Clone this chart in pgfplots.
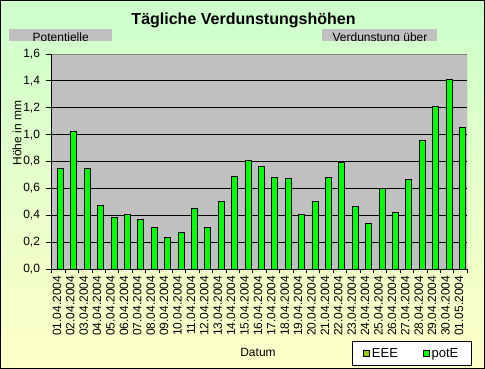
\documentclass[border=0pt]{standalone}
\usepackage{fontspec}
\setmainfont{Liberation Sans}
\usepackage{pgfplots}
\pgfplotsset{compat=1.18}
\definecolor{bggreen}{HTML}{CCFFCC}
\definecolor{bgyellow}{HTML}{FFFFC8}
\definecolor{plotgray}{HTML}{C0C0C0}
\definecolor{barg}{HTML}{00FF00}
\definecolor{eee}{HTML}{99CC00}
\definecolor{framegray}{HTML}{808080}
\begin{document}
\begin{tikzpicture}
\shade[top color=bggreen, bottom color=bgyellow] (0,0) rectangle (485bp,369bp);
\begin{axis}[
  at={(51.7bp,100bp)}, anchor=south west,
  scale only axis, width=415.4bp, height=215bp,
  xmin=-0.5, xmax=30.5, ymin=0, ymax=1.6,
  axis background/.style={fill=plotgray},
  axis x line*=bottom, axis y line*=left,
  axis line style={black, line width=0.8bp},
  ytick={0,0.2,0.4,0.6,0.8,1.0,1.2,1.4,1.6},
  ymajorgrids, major grid style={black, line width=0.8bp},
  xtick={0,...,30},
  xticklabels={01.04.2004,02.04.2004,03.04.2004,04.04.2004,05.04.2004,06.04.2004,07.04.2004,08.04.2004,09.04.2004,10.04.2004,11.04.2004,12.04.2004,13.04.2004,14.04.2004,15.04.2004,16.04.2004,17.04.2004,18.04.2004,19.04.2004,20.04.2004,21.04.2004,22.04.2004,23.04.2004,24.04.2004,25.04.2004,26.04.2004,27.04.2004,28.04.2004,29.04.2004,30.04.2004,01.05.2004},
  minor xtick={-0.5,0.5,...,30.5},
  major x tick style={draw=none},
  tick align=outside,
  major tick length=6bp, minor tick length=4bp,
  tick style={black, line width=0.8bp},
  tick label style={font=\fontsize{12bp}{14bp}\selectfont},
  xticklabel style={rotate=90, anchor=east, inner sep=0pt, xshift=-0.5bp, yshift=1.5bp},
  yticklabel style={inner sep=0pt, xshift=-5.5bp,
    /pgf/number format/fixed, /pgf/number format/fixed zerofill,
    /pgf/number format/precision=1, /pgf/number format/use comma,
    /pgf/number format/assume math mode=true},
  legend style={at={(0.7229,-0.3349)}, anchor=north west, draw=black, fill=white,
    line width=0.8bp, inner xsep=11bp, inner ysep=5bp,
    font=\fontsize{13bp}{15bp}\selectfont,
    /tikz/every even column/.append style={column sep=23bp}},
  legend columns=2,
  legend image code/.code={\draw[#1, line width=0.6bp] (0bp,-3bp) rectangle (6bp,3bp);},
]
\addlegendimage{fill=eee, draw=black}
\addlegendentry{EEE}
\addplot[ybar, bar width=6bp, bar shift=1.9bp, fill=barg, draw=black, line width=0.8bp] coordinates {
(0,0.75) (1,1.025) (2,0.75) (3,0.47) (4,0.385) (5,0.405) (6,0.37) (7,0.31) (8,0.235) (9,0.27)
(10,0.45) (11,0.31) (12,0.50) (13,0.69) (14,0.81) (15,0.765) (16,0.68) (17,0.675) (18,0.405) (19,0.50)
(20,0.68) (21,0.795) (22,0.465) (23,0.34) (24,0.60) (25,0.42) (26,0.665) (27,0.96) (28,1.21) (29,1.41) (30,1.055)};
\addlegendentry{potE}
\draw[framegray, line width=0.8bp] (rel axis cs:0,1) -- (rel axis cs:1,1) -- (rel axis cs:1,0);
\end{axis}
\node[font=\fontsize{16bp}{19bp}\selectfont\bfseries] at (243.5bp,349bp) {Tägliche Verdunstungshöhen};
\node[rotate=90, font=\fontsize{12bp}{14bp}\selectfont] at (17bp,236bp) {Höhe in mm};
\node[font=\fontsize{12bp}{14bp}\selectfont] at (258bp,17bp) {Datum};
\begin{scope}
\clip (9bp,328.3bp) rectangle (112bp,340bp);
\fill[plotgray] (9bp,328bp) rectangle (112bp,340bp);
\node[anchor=base, inner sep=0pt, font=\fontsize{12bp}{14bp}\selectfont] at (60.7bp,327.3bp) {Potentielle};
\end{scope}
\begin{scope}
\clip (322bp,328.3bp) rectangle (437bp,340bp);
\fill[plotgray] (322bp,328bp) rectangle (437bp,340bp);
\node[anchor=base, inner sep=0pt, font=\fontsize{12bp}{14bp}\selectfont] at (380bp,327.3bp) {Verdunstung über};
\end{scope}
\draw[black, line width=1bp] (0.5bp,0.5bp) rectangle (484.5bp,368.5bp);
\pgfresetboundingbox
\path (0,0) rectangle (485bp,369bp);
\end{tikzpicture}
\end{document}
